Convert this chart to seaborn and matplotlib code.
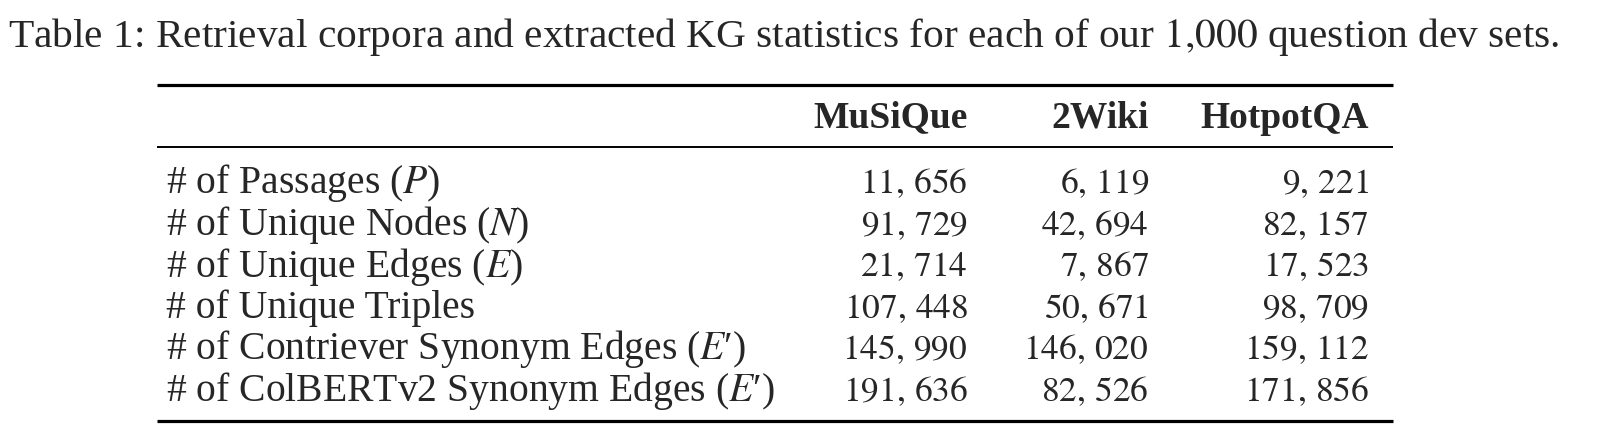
import matplotlib
matplotlib.use("Agg")
import matplotlib.pyplot as plt
import seaborn as sns

# table content
caption = "Table 1: Retrieval corpora and extracted KG statistics for each of our $1{,}000$ question dev sets."
datasets = ["MuSiQue", "2Wiki", "HotpotQA"]
row_labels = [
    "# of Passages ($P$)",
    "# of Unique Nodes ($N$)",
    "# of Unique Edges ($E$)",
    "# of Unique Triples",
    "# of Contriever Synonym Edges ($E$\u2032)",
    "# of ColBERTv2 Synonym Edges ($E$\u2032)",
]
musique = [11656, 91729, 21714, 107448, 145990, 191636]
twowiki = [6119, 42694, 7867, 50671, 146020, 82526]
hotpotqa = [9221, 82157, 17523, 98709, 159112, 171856]

sns.set_theme(style="white")
plt.rcParams["font.family"] = ["Liberation Serif", "DejaVu Serif"]
plt.rcParams["mathtext.fontset"] = "stix"

fig = plt.figure(figsize=(16.24, 4.48), dpi=100)
ax = fig.add_axes([0, 0, 1, 1])
ax.set_xlim(0, 1624)
ax.set_ylim(448, 0)
ax.axis("off")

fs = 28.5
ax.text(8, 46.5, caption, fontsize=29.8, ha="left", va="baseline")

# booktabs style rules
x0, x1 = 157, 1393
ax.plot([x0, x1], [85, 85], color="black", lw=2.3, solid_capstyle="butt")
ax.plot([x0, x1], [147, 147], color="black", lw=1.4, solid_capstyle="butt")
ax.plot([x0, x1], [421, 421], color="black", lw=2.3, solid_capstyle="butt")

col_right = [968, 1149, 1369]
for x, name in zip(col_right, datasets):
    ax.text(x, 127.5, name, fontsize=27, fontweight="bold", ha="right", va="baseline")

row_y = [193.5, 235, 276.5, 318, 359.5, 401]
for i, (y, lab) in enumerate(zip(row_y, row_labels)):
    ax.text(166, y, lab, fontsize=fs, ha="left", va="baseline")
    for x, col in zip(col_right, [musique, twowiki, hotpotqa]):
        s = f"{col[i]:,}".replace(",", ",\\,")
        ax.text(x, y, f"${s}$", fontsize=25.5, ha="right", va="baseline")

fig.savefig("out.png", dpi=100, facecolor="white")
